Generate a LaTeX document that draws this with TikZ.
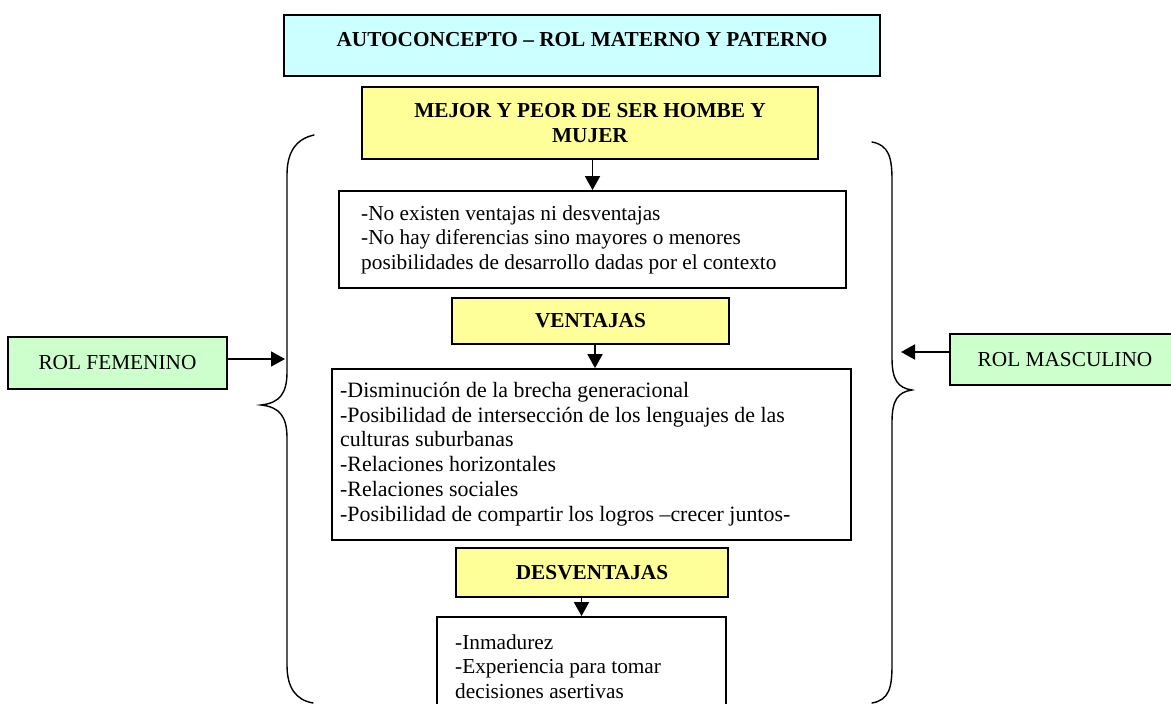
\documentclass[tikz,border=0pt]{standalone}
\usepackage{fontspec}
\setmainfont{Liberation Serif}
\usetikzlibrary{arrows.meta}
\definecolor{cyanbox}{HTML}{CCFFFF}
\definecolor{yellowbox}{HTML}{FFFF99}
\definecolor{greenbox}{HTML}{CCFFCC}
\tikzset{
  base/.style={draw=black, line width=1.8pt, inner sep=0pt, font=\fontsize{21.3}{24.5}\selectfont},
  headbox/.style={base, fill=cyanbox},
  titlebox/.style={base, fill=yellowbox, align=center, font=\fontsize{21.3}{24.5}\selectfont\bfseries},
  rolebox/.style={base, fill=greenbox},
  listbox/.style={base, fill=white},
  listtext/.style={inner sep=0pt, align=left, anchor=west, font=\fontsize{21.3}{24.5}\selectfont},
  arr/.style={line width=1.8pt, -{Triangle[length=14pt,width=15pt]}},
  brace/.style={line width=1.4pt, line cap=round}
}
\begin{document}
\begin{tikzpicture}[x=1pt,y=-1pt]
\useasboundingbox (0,0) rectangle (1171,704);
\clip (0,0) rectangle (1171,704);

% header
\node[headbox, minimum width=596pt, minimum height=61pt] (head) at (582,45.5) {};
\node[inner sep=0pt, font=\fontsize{21.3}{24.5}\selectfont\bfseries] (headtxt) at (582,40) {AUTOCONCEPTO – ROL MATERNO Y PATERNO};

% main title
\node[titlebox, minimum width=456pt, minimum height=72pt] (mejor) at (590,123) {MEJOR Y PEOR DE SER HOMBE Y\\MUJER};

% box 1
\node[listbox, minimum width=507pt, minimum height=97pt] (b1) at (592.5,239.5) {};
\node[listtext] (t1) at (361,239.5) {-No existen ventajas ni desventajas\\-No hay diferencias sino mayores o menores\\posibilidades de desarrollo dadas por el contexto};

% ventajas
\node[titlebox, minimum width=277pt, minimum height=46pt] (vent) at (590.5,321) {VENTAJAS};

% box 2
\node[listbox, minimum width=519pt, minimum height=171pt] (b2) at (591.5,454.5) {};
\node[listtext, font=\fontsize{21.9}{24.8}\selectfont] (t2) at (340,454) {-Disminución de la brecha generacional\\-Posibilidad de intersección de los lenguajes de las\\culturas suburbanas\\-Relaciones horizontales\\-Relaciones sociales\\-Posibilidad de compartir los logros –crecer juntos-};

% desventajas
\node[titlebox, minimum width=272pt, minimum height=49pt] (desv) at (592,572.5) {DESVENTAJAS};

% box 3
\node[listbox, minimum width=289pt, minimum height=99pt] (b3) at (581.5,666.5) {};
\node[listtext] (t3) at (455,666.5) {-Inmadurez\\-Experiencia para tomar\\decisiones asertivas};

% role boxes
\node[rolebox, minimum width=219pt, minimum height=52pt] (fem) at (117.5,363) {ROL FEMENINO};
\node[rolebox, minimum width=230pt, minimum height=51pt] (masc) at (1065,359.5) {ROL MASCULINO};

% braces
\draw[brace] (314,135) .. controls (296,139) and (287,152) .. (287,175) -- (287,372)
  .. controls (287,393) and (280,403) .. (261,405)
  .. controls (280,407) and (287,417) .. (287,438) -- (287,665)
  .. controls (287,688) and (296,700) .. (313,703);
\draw[brace] (872,142) .. controls (889,145) and (892,158) .. (892,180) -- (892,358)
  .. controls (892,380) and (898,388) .. (912,390)
  .. controls (898,392) and (892,400) .. (892,422) -- (892,665)
  .. controls (892,688) and (889,700) .. (872,703);

\coordinate (lb) at (285,359);
\coordinate (rb) at (901,352);

% connectors
\draw[arr] (mejor.south -| b1.north) -- (b1.north);
\draw[arr] ([xshift=4.5pt]vent.south) -- ([xshift=4.5pt]vent.south |- b2.north);
\draw[arr] (desv.south -| b3.north) -- (b3.north);
\draw[arr] (fem.east |- lb) -- (lb);
\draw[arr] (masc.west |- rb) -- (rb);
\end{tikzpicture}
\end{document}
